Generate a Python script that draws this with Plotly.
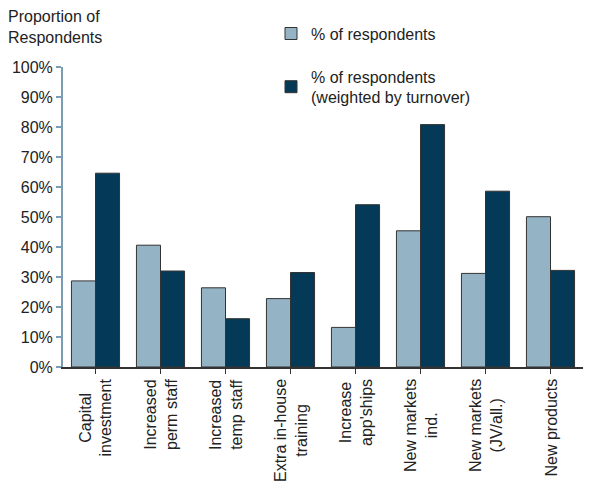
import plotly.graph_objects as go

categories = [
    "Capital<br>investment",
    "Increased<br>perm staff",
    "Increased<br>temp staff",
    "Extra in-house<br>training",
    "Increase<br>app'ships",
    "New markets<br>ind.",
    "New markets<br>(JV/all.)",
    "New products",
]
respondents = [0.287, 0.406, 0.264, 0.228, 0.132, 0.454, 0.312, 0.501]
weighted = [0.646, 0.320, 0.161, 0.315, 0.541, 0.808, 0.586, 0.322]
y_ticks = [0, 0.1, 0.2, 0.3, 0.4, 0.5, 0.6, 0.7, 0.8, 0.9, 1.0]
y_ticklabels = ["0%", "10%", "20%", "30%", "40%", "50%", "60%", "70%", "80%", "90%", "100%"]
series_names = ["% of respondents", "% of respondents<br>(weighted by turnover)"]

FONT = "Liberation Sans, Arial, sans-serif"
TEXT = "#222222"
LIGHT = "#94b3c5"
DARK = "#043a58"
EDGE = "#333333"
AXIS_BLUE = "#7b9db3"
FS = 16

xs = list(range(len(categories)))

fig = go.Figure()
fig.add_trace(go.Bar(
    x=xs, y=respondents, name=series_names[0], legendgroup="a",
    marker=dict(color=LIGHT, line=dict(color=EDGE, width=1)),
))
fig.add_trace(go.Bar(
    x=xs, y=weighted, name=series_names[1], legendgroup="b",
    marker=dict(color=DARK, line=dict(color=EDGE, width=1)),
))

for i, c in enumerate(categories):
    fig.add_annotation(
        x=i, y=0, xref="x", yref="paper", text=c, textangle=-90,
        showarrow=False, xanchor="center", yanchor="top", yshift=-10,
        align="center", font=dict(family=FONT, size=FS, color=TEXT),
    )

fig.add_annotation(
    x=(6 - 63) / 520, y=(367 - 6) / 300, xref="paper", yref="paper",
    text="Proportion of<br>Respondents", showarrow=False,
    xanchor="left", yanchor="top", align="left",
    font=dict(family=FONT, size=FS, color=TEXT),
)

fig.update_layout(
    width=593, height=485,
    margin=dict(l=63, r=10, t=67, b=118),
    paper_bgcolor="white", plot_bgcolor="white",
    barmode="group", bargap=0.26, bargroupgap=0,
    font=dict(family=FONT, size=FS, color=TEXT),
    legend=dict(
        x=0.40, y=1.168, xanchor="left", yanchor="top",
        traceorder="grouped", tracegroupgap=19,
        font=dict(family=FONT, size=FS, color=TEXT),
        bgcolor="rgba(0,0,0,0)",
    ),
    xaxis=dict(
        range=[-0.5, len(categories) - 0.5], automargin=False,
        tickmode="array", tickvals=xs, showticklabels=False,
        ticks="outside", tickson="boundaries", ticklen=5, tickcolor=EDGE,
        showline=True, linecolor=EDGE, linewidth=1.5, showgrid=False, zeroline=False,
        fixedrange=True,
    ),
    yaxis=dict(
        range=[0, 1], automargin=False, tickmode="array", tickvals=y_ticks, ticktext=y_ticklabels,
        ticks="outside", ticklen=5, tickcolor=AXIS_BLUE, tickwidth=1.5,
        showline=True, linecolor=AXIS_BLUE, linewidth=2, showgrid=False, zeroline=False,
        ticklabelstandoff=0, tickfont=dict(family=FONT, size=FS, color=TEXT),
    ),
)

fig.write_html("out.html")
